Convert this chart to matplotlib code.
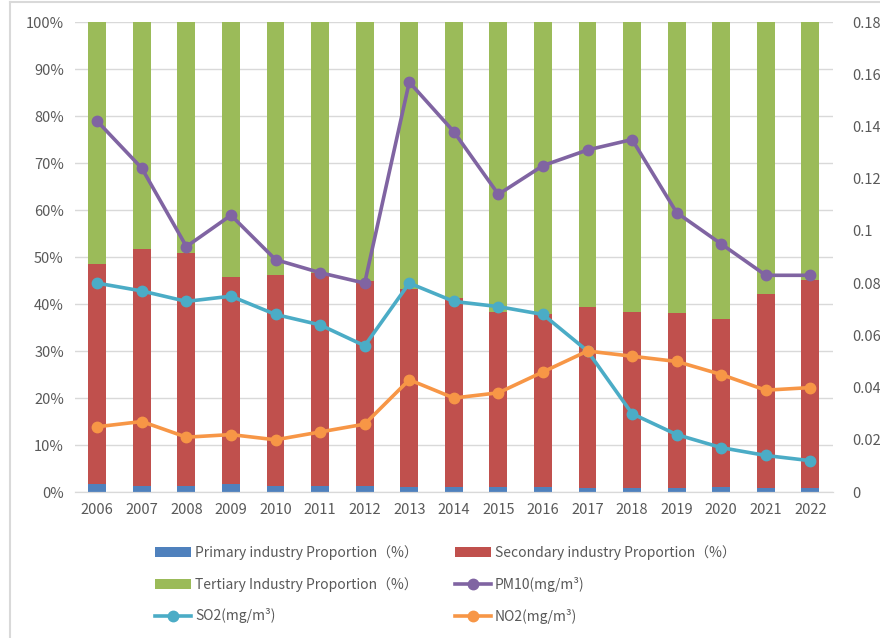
import matplotlib
matplotlib.use('Agg')
import matplotlib.pyplot as plt
from matplotlib.ticker import FuncFormatter, MultipleLocator
from matplotlib.lines import Line2D
import numpy as np

plt.rcParams['font.family'] = ['Noto Sans CJK SC', 'DejaVu Sans']

# Data
years = ['2006', '2007', '2008', '2009', '2010', '2011', '2012', '2013', '2014',
         '2015', '2016', '2017', '2018', '2019', '2020', '2021', '2022']
primary = [1.8, 1.35, 1.35, 1.8, 1.35, 1.35, 1.35, 1.1, 1.1,
           1.0, 1.0, 0.8, 0.8, 0.8, 1.0, 0.8, 0.8]
secondary = [46.7, 50.35, 49.45, 44.0, 44.85, 45.15, 43.55, 42.1, 40.2,
             37.4, 36.9, 38.6, 37.5, 37.3, 35.9, 41.3, 44.3]
tertiary = [51.5, 48.3, 49.2, 54.2, 53.8, 53.5, 55.1, 56.8, 58.7,
            61.6, 62.1, 60.6, 61.7, 61.9, 63.1, 57.9, 54.9]
pm10 = [0.142, 0.124, 0.094, 0.106, 0.089, 0.084, 0.080, 0.157, 0.138,
        0.114, 0.125, 0.131, 0.135, 0.107, 0.095, 0.083, 0.083]
so2 = [0.080, 0.077, 0.073, 0.075, 0.068, 0.064, 0.056, 0.080, 0.073,
       0.071, 0.068, 0.054, 0.030, 0.022, 0.017, 0.014, 0.012]
no2 = [0.025, 0.027, 0.021, 0.022, 0.020, 0.023, 0.026, 0.043, 0.036,
       0.038, 0.046, 0.054, 0.052, 0.050, 0.045, 0.039, 0.040]

grey = '#595959'
x = np.arange(len(years))

fig = plt.figure(figsize=(8.8, 6.38), dpi=100)
ax = fig.add_axes([0.0852, 0.2288, 0.861, 0.7367])
ax2 = ax.twinx()

# chart frame (left and top edges visible in the reference)
fig.add_artist(Line2D([0.0108, 0.0108], [0, 0.997], transform=fig.transFigure,
                      color='#D9D9D9', linewidth=1.5))
fig.add_artist(Line2D([0.0108, 1], [0.997, 0.997], transform=fig.transFigure,
                      color='#D9D9D9', linewidth=1.5))

w = 0.4
b1 = ax.bar(x, primary, w, color='#4F81BD', label='Primary industry Proportion（%）', zorder=2)
b2 = ax.bar(x, secondary, w, bottom=primary, color='#C0504D',
            label='Secondary industry Proportion（%）', zorder=2)
bottom3 = np.array(primary) + np.array(secondary)
b3 = ax.bar(x, tertiary, w, bottom=bottom3, color='#9BBB59',
            label='Tertiary Industry Proportion（%）', zorder=2)

lkw = dict(linewidth=2.6, marker='o', markersize=7.5)
l1, = ax2.plot(x, pm10, color='#8064A2', label='PM10(mg/m³)', **lkw)
l2, = ax2.plot(x, so2, color='#4BACC6', label='SO2(mg/m³)', **lkw)
l3, = ax2.plot(x, no2, color='#F79646', label='NO2(mg/m³)', **lkw)

ax.set_xlim(-0.5, len(years) - 0.5)
ax.set_ylim(0, 100)
ax2.set_ylim(0, 0.18)
ax.yaxis.set_major_locator(MultipleLocator(10))
ax.yaxis.set_major_formatter(FuncFormatter(lambda v, p: '%d%%' % round(v)))
ax2.yaxis.set_major_locator(MultipleLocator(0.02))
ax2.yaxis.set_major_formatter(FuncFormatter(lambda v, p: '0' if abs(v) < 1e-9 else ('%.2f' % v).rstrip('0')))
ax.set_xticks(x)
ax.set_xticklabels(years)

ax.grid(axis='y', color='#D9D9D9', linewidth=1, zorder=0)
ax.set_axisbelow(True)
for a in (ax, ax2):
    for s in ('top', 'left', 'right'):
        a.spines[s].set_visible(False)
    a.spines['bottom'].set_color('#D9D9D9')
    a.tick_params(length=0, labelsize=10.5, colors=grey)
ax.tick_params(axis='y', pad=8)
ax2.tick_params(axis='y', pad=14)
ax.tick_params(axis='x', pad=8)

handles = [b1, b3, l2, b2, l1, l3]
labels = [h.get_label() for h in handles]
fig.legend(handles, labels, ncol=2, loc='center', bbox_to_anchor=(0.506, 0.084),
           frameon=False, fontsize=10, labelcolor=grey, handlelength=2.6,
           columnspacing=2.65, labelspacing=1.2, handletextpad=0.3)

fig.savefig('out.png', dpi=100)
